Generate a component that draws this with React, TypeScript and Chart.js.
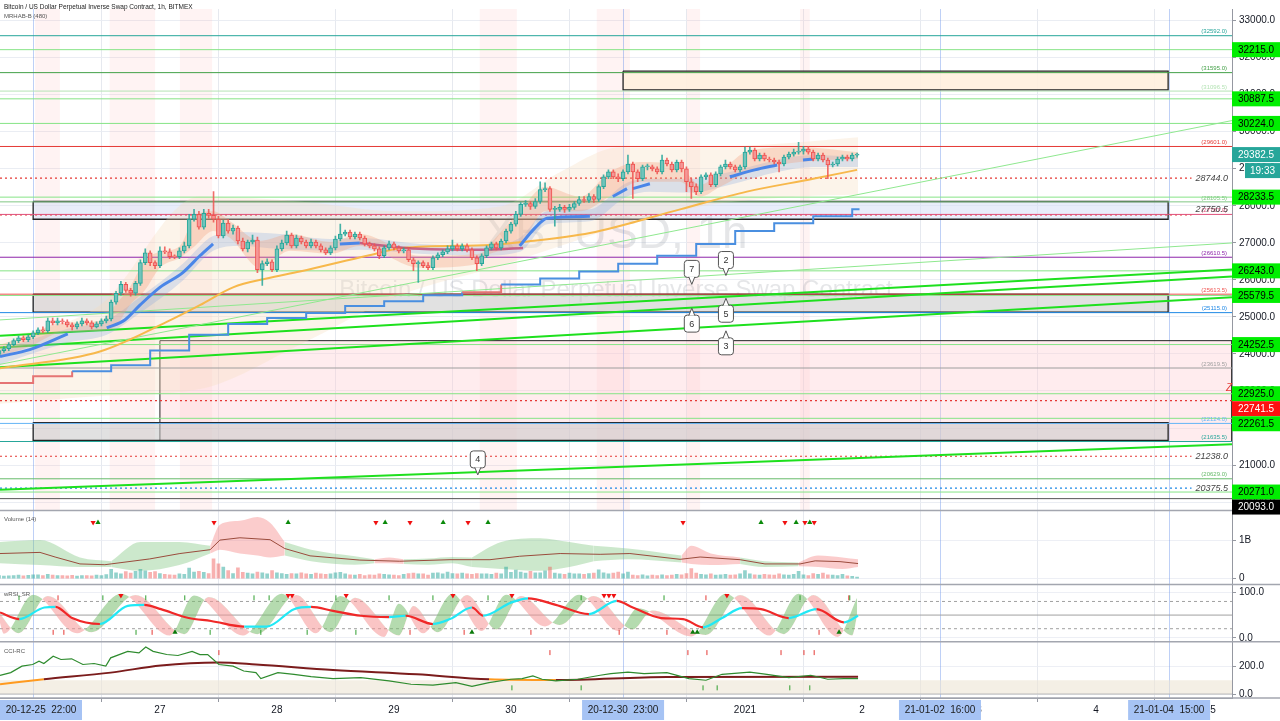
import React, { useEffect, useRef } from "react";
import { Chart, registerables } from "chart.js";

Chart.register(...registerables);

const W = 1280;
const H = 721;
const SANS = "'Liberation Sans', Arial, sans-serif";

// ---------------- time axis (hours since 2020-12-27 00:00) ----------------
const xMin = -32.8;
const xMax = 219.9;
const dayHours = [-24, 0, 24, 48, 72, 96, 120, 144, 168, 192, 216];
const dayLabels = ["26", "27", "28", "29", "30", "31", "2021", "2", "3", "4", "5"];
const markerHours = [-26, 95, 160, 207];
const markerLabels = ["20-12-25  22:00", "20-12-30  23:00", "21-01-02  16:00", "21-01-04  15:00"];

// ---------------- price axis ----------------
const priceMin = 19774;
const priceMax = 33313;
const priceTicks = [20000, 21000, 22000, 23000, 24000, 25000, 26000, 27000, 28000, 29000, 30000, 31000, 32000, 33000];

// ---------------- hourly candles (first candle = hour -33) ----------------
const firstHour = -33;
const opens = [
  23985, 24091, 24145, 24251, 24358, 24438, 24385, 24464, 24571, 24651,
  24624, 24891, 24838, 24891, 24865, 24784, 24731, 24811, 24891, 24838,
  24731, 24811, 24891, 24945, 25398, 25638, 25877, 25718, 25638, 25904,
  26464, 26730, 26464, 26384, 26784, 26757, 26624, 26624, 26784, 26917,
  27636, 27770, 27423, 27796, 27743, 27636, 27183, 27530, 27316, 27396,
  27050, 26837, 27023, 27076, 26277, 26437, 26490, 26277, 26837, 26996,
  27210, 26917, 27130, 27023, 26917, 27023, 26917, 26810, 26730, 26863,
  27103, 27236, 27290, 27156, 27236, 27130, 26970, 26917, 26837, 26650,
  26863, 26970, 26863, 26784, 26810, 26544, 26437, 26464, 26384, 26330,
  26597, 26677, 26757, 26837, 26917, 26837, 26917, 26810, 26597, 26437,
  26650, 26863, 26970, 26863, 27050, 27316, 27503, 27770, 28036, 28062,
  27983, 28116, 28436, 28462, 27903, 27903, 27956, 27903, 27956, 28062,
  28169, 28142, 28249, 28169, 28516, 28782, 28915, 28782, 28729, 28915,
  29129, 28915, 28729, 29049, 29049, 28995, 28915, 29235, 29129, 28969,
  29182, 28995, 28649, 28516, 28382, 28782, 28835, 28569, 28862, 29049,
  29129, 29049, 28969, 29049, 29448, 29502, 29262, 29369, 29262, 29235,
  29182, 29129, 29315, 29395, 29448, 29475, 29529, 29448, 29262, 29369,
  29235, 29102, 29129, 29262, 29315, 29262, 29369,
];
const highs = [
  24145, 24198, 24305, 24411, 24491, 24491, 24518, 24624, 24704, 24731,
  24971, 24971, 24971, 24945, 24918, 24838, 24865, 24971, 24945, 24891,
  24865, 24945, 25024, 25451, 25691, 25957, 25931, 25771, 25957, 26544,
  26837, 26784, 26517, 26890, 26890, 26837, 26677, 26863, 27023, 27770,
  27903, 27850, 27903, 27903, 28382, 27716, 27610, 27636, 27476, 27450,
  27130, 27076, 27210, 27156, 26517, 26570, 26544, 26917, 27076, 27316,
  27263, 27210, 27183, 27076, 27103, 27076, 26970, 26863, 26917, 27183,
  27503, 27343, 27343, 27290, 27290, 27183, 27023, 26970, 26890, 26917,
  27050, 27023, 26917, 26863, 26863, 26597, 26517, 26517, 26464, 26650,
  26730, 26810, 26917, 27076, 26970, 26970, 26970, 26863, 26650, 26704,
  26917, 27023, 27023, 27103, 27370, 27556, 27850, 28089, 28142, 28116,
  28196, 28649, 28622, 28516, 27983, 28036, 28009, 28036, 28116, 28249,
  28249, 28329, 28302, 28569, 28835, 28969, 28969, 28862, 28969, 29369,
  29182, 28969, 29102, 29129, 29102, 29049, 29369, 29289, 29182, 29235,
  29235, 29049, 28729, 28595, 28835, 28889, 28889, 28915, 29102, 29235,
  29182, 29102, 29102, 29582, 29582, 29555, 29422, 29422, 29315, 29289,
  29235, 29369, 29448, 29529, 29715, 29608, 29608, 29502, 29422, 29422,
  29289, 29182, 29315, 29369, 29369, 29422, 29422,
];
const lows = [
  23931, 24038, 24091, 24225, 24305, 24331, 24331, 24411, 24518, 24571,
  24571, 24784, 24784, 24811, 24731, 24651, 24678, 24758, 24784, 24678,
  24704, 24758, 24838, 24891, 25344, 25584, 25664, 25557, 25584, 25851,
  26410, 26384, 26304, 26330, 26704, 26570, 26570, 26570, 26730, 26863,
  27583, 27370, 27370, 27663, 27556, 27130, 27130, 27263, 27236, 26970,
  26784, 26757, 26970, 26197, 25851, 26384, 26224, 26224, 26784, 26943,
  26863, 26863, 26970, 26863, 26863, 26863, 26757, 26677, 26677, 26810,
  27050, 27183, 27103, 27103, 27076, 26917, 26863, 26784, 26570, 26597,
  26810, 26810, 26730, 26730, 26490, 26251, 25931, 26330, 26277, 26277,
  26544, 26624, 26704, 26784, 26784, 26784, 26757, 26544, 26251, 26384,
  26597, 26810, 26810, 26810, 26996, 27263, 27450, 27716, 27983, 27903,
  27929, 28062, 28382, 27850, 27450, 27850, 27823, 27850, 27903, 28009,
  28089, 28089, 28089, 28116, 28462, 28729, 28729, 28649, 28675, 28862,
  28196, 28649, 28675, 28969, 28942, 28862, 28862, 29075, 28915, 28915,
  28915, 28382, 28196, 28302, 28329, 28702, 28516, 28516, 28809, 28995,
  28995, 28915, 28915, 28995, 29395, 29209, 29209, 29209, 29182, 29129,
  28915, 29075, 29262, 29342, 29395, 29395, 29395, 29209, 29209, 29182,
  28729, 29049, 29075, 29209, 29209, 29209, 29315,
];
const closes = [
  24091, 24145, 24251, 24358, 24438, 24385, 24464, 24571, 24651, 24624,
  24891, 24838, 24891, 24865, 24784, 24731, 24811, 24891, 24838, 24731,
  24811, 24891, 24945, 25398, 25638, 25877, 25718, 25638, 25904, 26464,
  26730, 26464, 26384, 26784, 26757, 26624, 26620, 26784, 26917, 27636,
  27770, 27423, 27796, 27743, 27636, 27183, 27530, 27316, 27396, 27050,
  26837, 27023, 27076, 26277, 26437, 26490, 26277, 26837, 26996, 27210,
  26917, 27130, 27023, 26917, 27023, 26917, 26810, 26730, 26863, 27103,
  27236, 27290, 27156, 27236, 27130, 26970, 26917, 26837, 26650, 26863,
  26970, 26863, 26784, 26810, 26544, 26437, 26464, 26384, 26330, 26597,
  26677, 26757, 26837, 26917, 26837, 26917, 26810, 26597, 26437, 26650,
  26863, 26970, 26863, 27050, 27316, 27503, 27770, 28036, 28062, 27983,
  28116, 28436, 28462, 27903, 27910, 27956, 27903, 27956, 28062, 28169,
  28142, 28249, 28169, 28516, 28782, 28915, 28782, 28729, 28915, 29129,
  28915, 28729, 29049, 29055, 28995, 28915, 29235, 29129, 28969, 29182,
  28995, 28649, 28516, 28382, 28782, 28835, 28569, 28862, 29049, 29129,
  29049, 28969, 29049, 29448, 29502, 29262, 29369, 29262, 29235, 29182,
  29129, 29315, 29395, 29448, 29475, 29529, 29448, 29262, 29369, 29235,
  29102, 29129, 29262, 29315, 29262, 29369, 29382.5,
];
// volume in millions of contracts
const volumes = [
  80, 65, 70, 75, 90, 70, 85, 100, 95, 80,
  110, 90, 80, 75, 70, 85, 65, 75, 80, 70,
  90, 80, 105, 240, 150, 120, 180, 140, 190, 240,
  200, 160, 180, 130, 110, 100, 90, 120, 110, 270,
  170, 190, 160, 130, 510, 380, 300, 210, 130, 280,
  160, 140, 120, 170, 150, 120, 210, 150, 130, 110,
  130, 120, 150, 120, 110, 140, 120, 110, 120, 150,
  160, 120, 100, 90, 110, 80, 100, 90, 120, 110,
  100, 90, 80, 110, 130, 140, 120, 120, 90, 140,
  150, 120, 170, 130, 120, 140, 120, 110, 130, 120,
  120, 110, 140, 120, 300, 160, 220, 170, 140, 190,
  150, 150, 200, 300, 140, 120, 110, 140, 120, 120,
  110, 130, 140, 230, 150, 120, 140, 170, 120, 170,
  90, 80, 100, 70, 90, 80, 100, 80, 90, 110,
  100, 130, 260, 140, 110, 100, 120, 90, 100, 110,
  90, 100, 120, 210, 120, 100, 90, 110, 100, 90,
  120, 100, 90, 110, 190, 100, 80, 130, 110, 140,
  100, 90, 80, 110, 70, 60, 40,
];

// ---------------- MRHAB overlay ----------------
const cloudHours = [-32.8, -12.3, 8.2, 28.7, 49.2, 69.7, 82.1, 94.4, 110.8, 131.3, 143.2];
const cloudUpper = [24385, 25317, 28249, 28116, 27850, 27983, 28915, 29582, 29582, 29715, 29848];
const cloudLower = [22652, 22865, 23052, 24251, 25584, 26384, 26917, 27450, 27983, 28249, 28302];

const salmonHours = [-32.8, -26.7, -20.5, -12.3, -9.2, -6.2, -3.1, 0, 4.1, 7.2, 10.9, 14.4, 20.5, 26.7, 34.9, 41, 53.3, 65.6, 67.7, 73.8, 79, 86.2, 92.3, 98.5, 106.7, 110.8, 114.9, 121, 131.3, 143.2];
const salmonUpper = [24251, 24518, 24838, 24891, 25317, 25797, 26517, 26757, 26917, 27716, 27850, 27583, 27050, 27236, 27023, 27236, 26650, 26704, 26970, 27850, 28516, 28249, 28915, 29182, 29049, 28569, 28915, 29502, 29582, 29448];
const salmonLower = [23931, 24198, 24571, 24624, 24731, 25317, 25718, 26330, 26597, 26917, 27316, 27130, 26330, 26784, 26704, 26917, 26330, 26437, 26704, 26917, 27850, 27850, 28249, 28649, 28649, 28249, 28516, 28915, 29182, 29262];

const blueBandHours = [-32.8, -18.9, -10.9, -4.1, 4.7, 10.9, 16.4, 24.6, 34.9, 41, 53.3, 65.6, 73.8, 79.4, 88.2, 95.8, 100.5, 108.7, 116.9, 126.6, 134, 143.2];
const blueBandUpper = [24118, 24678, 24918, 25531, 26437, 27183, 27290, 27236, 27103, 27130, 26970, 26917, 27130, 27850, 27903, 28622, 28729, 28729, 28915, 29235, 29369, 29315];
const blueBandLower = [23718, 24305, 24518, 25104, 25984, 26784, 26917, 26837, 26784, 26810, 26704, 26650, 26757, 27503, 27583, 28249, 28382, 28356, 28569, 28915, 29049, 29049];

const fastBlueHours = [-32.8, -26.7, -18.9, -15, -10.9, -7.2, -4.1, 0, 4.7, 8.2, 10.9, 20, 36.9, 41, 50, 73.8, 76.9, 79.4, 88.2, 90, 92.9, 95.8, 96.4, 97, 100.5, 110, 116.9, 122, 126.6, 129, 131.9, 134];
const fastBlue = [23931, 24118, 24544, null, 24704, 24918, 25317, 25797, 26197, 26650, 26970, null, 26970, 26996, null, 26917, 27396, 27663, 27716, null, 28249, 28462, null, 28462, 28595, null, 28782, 28969, 29102, null, 29235, 29262];
const fastRedHours = [41, 53.3, 65.6, 74.5];
const fastRed = [26996, 26837, 26810, 26863];

const slowHours = [-32.8, -12.3, 1.4, 8.2, 15, 21.9, 28.7, 42.5, 49.8, 67.7, 74.5, 88.2, 106.7, 120.4, 134, 143];
const slowMa = [23612, 24065, 24865, 25317, 25797, 26037, 26224, 26650, 26863, 26943, 27023, 27263, 27903, 28382, 28729, 28969];

const stepHours = [-32.8, -26, -18, -10, -2, 6, 14, 22, 30, 38, 46, 54, 62, 70, 78, 86, 94, 102, 110, 118, 126, 134, 142, 143.5];
const stepValues = [23212, 23399, 23532, 23692, 24092, 24518, 24811, 24971, 25104, 25291, 25424, 25584, 25664, 25877, 26037, 26224, 26437, 26650, 26970, 27317, 27530, 27716, 27903, 27903];

// ---------------- drawings ----------------
const trendStartPrices = [23718, 24918, 24491, 24171, 23638, 20333];
const trendEndPrices = [30301, 26996, 26277, 26091, 25531, 21560];

const levelPrices = [32592, 32215, 31595, 31096.5, 30887.5, 30224, 29601, 28233.5, 28105.5, 27767, 26610.5, 26243, 25613.5, 25579.5, 25115, 24252.5, 23619.5, 22925, 22261.5, 22124, 21635.5, 20629, 20271, 20093];
const taggedPrices = [32592, 31595, 31096.5, 29601, 28105.5, 27767, 26610.5, 25613.5, 25115, 23619.5, 22124, 21635.5, 20629];
const dottedPrices = [28744, 27750.5, 22741.5, 21238, 20375.5];
const italicPrices = [28744, 27750.5, 21238, 20375.5];
const greenAxisPrices = [32215, 30887.5, 30224, 28233.5, 26243, 25579.5, 24252.5, 22925, 22261.5, 20271];
const lastPrice = 29382.5;
const countdown = "19:33";
const redAxisPrice = 22741.5;
const blackAxisPrice = 20093;

const boxStartHours = [95, -26, -26, -26];
const boxEndHours = [206.8, 206.8, 206.8, 206.8];
const boxTopPrices = [31634, 28116, 25611, 22146];
const boxBottomPrices = [31128, 27636, 25131, 21666];
const zoneHours = [0, 219.9];
const zonePrices = [24358, 21635];

const sessionBands = [[-25.6, -20.5], [-10.3, -1], [4.1, 10.7], [65.6, 73.2], [89.6, 96.4], [108.1, 110.8], [131.3, 133.3]];

const calloutLabels = ["7", "2", "6", "5", "3", "4"];
const calloutHours = [109.1, 116.1, 109.1, 116.1, 116.1, 65.2];
const calloutPrices = [25877, 26117, 25237, 25504, 24624, 20733];
const calloutBelow = [false, false, true, true, true, false];

// ---------------- volume pane ----------------
const volMaHours = [-32.8, -24.6, -21.5, -16.4, -11.3, -2.1, 4.1, 10.3, 12.3, 16.4, 22.6, 25.6, 30.8, 41, 49.2, 59.5, 67.7, 73.8, 82.1, 90.3, 96.4, 106.7, 110.8, 119, 124.1, 131.3, 134.4, 139.5, 143.2];
const volMa = [650, 680, 560, 380, 360, 510, 650, 750, 1000, 1060, 1010, 780, 590, 480, 450, 490, 490, 580, 650, 630, 650, 500, 560, 490, 380, 380, 460, 440, 390];
const volBandHours = [[-32.8, -24.6, -16.4, -10], [-10, -4, 4, 10.3], [10.3, 12.3, 16.4, 20, 22.6, 25.6], [25.6, 31, 40, 44], [44, 47, 50], [50, 55, 60, 64], [64, 70, 78, 84, 89], [89, 96, 107], [107, 109, 113, 119], [119, 124, 131], [131, 135, 140, 143.2]];
const volBandUpper = [[950, 1000, 550, 450], [450, 950, 950, 850], [850, 1400, 1500, 1600, 1450, 950], [950, 750, 580, 500], [500, 550, 500], [500, 520, 560, 550], [550, 950, 1050, 950, 850], [850, 780, 600], [600, 850, 650, 550], [550, 450, 420], [420, 600, 550, 500]];
const volBandLower = [[400, 350, 300, 300], [300, 200, 350, 650], [650, 750, 650, 600, 550, 600], [600, 450, 360, 400], [400, 400, 380], [380, 360, 400, 300], [300, 250, 200, 300, 450], [450, 500, 420], [420, 380, 350, 380], [380, 300, 320], [320, 300, 250, 300]];
const volBandRising = [true, true, false, true, false, true, true, true, false, true, false];
const volSellHours = [-13.7, 11.1, 44.3, 51.3, 63.2, 107.3, 128.2, 132.3, 134.2];
const volBuyHours = [-12.7, 26.3, 46.2, 58.1, 67.3, 123.3, 130.5, 133.3];
const volMarkLevel = 1460;

// ---------------- wRSI pane ----------------
const rsiFastHours = [-33, -32, -26, -17, -8, 2, 7, 17, 25, 32, 37, 46, 49, 54, 60, 66, 71, 79, 86, 94, 98, 109, 116, 125, 131, 139, 143];
const rsiFast = [40, 9, 95, 10, 97, 5, 93, 5, 97, 10, 92, 2, 75, 10, 97, 15, 95, 25, 95, 15, 65, 3, 97, 5, 97, 2, 88];
const rsiLagHours = [-33, -29, -23, -14, -5, 5, 10, 20, 28, 35, 40, 49, 52, 57, 63, 69, 74, 82, 89, 97, 101, 112, 119, 128, 134, 142, 143.2];
const rsiLag = [55, 10, 92, 12, 94, 8, 90, 8, 94, 12, 88, 5, 70, 12, 94, 18, 92, 28, 92, 18, 60, 6, 94, 8, 94, 5, 60];
const rsiSlowHours = [-32.8, -28.8, -23.7, -21.4, -18, -12.3, -6.6, -3.2, 0.2, 5.9, 10.5, 17.3, 21.9, 27.5, 31, 35.5, 41.2, 47, 50.4, 56, 59.5, 64, 66.3, 72, 75.5, 81.2, 88, 93.7, 97, 102.8, 107.3, 111.4, 115.3, 119.4, 123.3, 129, 134.7, 140.3, 143.2];
const rsiSlow = [55.8, 41.3, 66.7, 68.1, 43.5, 30.4, 70.3, 72.5, 63, 43.5, 37, 24.6, 24.6, 63, 68, 59.4, 48.5, 45.6, 48.5, 30.4, 41.3, 66.7, 48.5, 77.5, 87, 72.5, 52.2, 81.2, 66.7, 43.5, 41.3, 23.2, 43.5, 65.2, 63, 43.5, 63, 34, 48.5];
const rsiLevels = [80, 50, 20];
const rsiSellHours = [-8, 26.3, 27.1, 38.2, 60.1, 72.2, 91.1, 92.1, 93.1, 116.3];
const rsiBuyHours = [3.1, 64, 109.3, 110.2, 139.3];
const rsiTopGreenTicks = [-28.9, -11.7, -2.9, 5.1, 19.3, 22.4, 36.1, 47, 56, 67.3, 86.4, 103.4, 131.3, 141.5];
const rsiTopRedTicks = [-20.9, 112, 141.3];
const rsiBottomRedTicks = [-21.9, -19.7, -1.6, 51.3, 62.4, 76.1, 94.2, 104, 135.2];
const rsiBottomGreenTicks = [-4.9, 10.3, 20.7, 30.2, 40.2];

// ---------------- CCI pane ----------------
const cciHours = [-32.8, -30.6, -28.3, -26.1, -24.8, -23.8, -21.9, -20.3, -18.1, -15.8, -13.5, -11.1, -10.1, -6.6, -4.3, -2.9, -1.4, 1.4, 3.7, 6.6, 8.2, 9.8, 12.1, 15, 17.2, 19.7, 20.7, 24.2, 27.5, 31, 35.5, 41.2, 47, 51.5, 56, 60.7, 64, 67.5, 72, 74.3, 76.5, 78.4, 81.2, 85.7, 90.3, 92.5, 96, 99.3, 104, 108.5, 112, 115.3, 121, 124.5, 129, 133.5, 137, 140.3, 143.2];
const cciValues = [135, 155, 202, 214, 238, 221, 274, 250, 255, 214, 221, 202, 262, 309, 298, 340, 309, 286, 279, 309, 286, 286, 214, 202, 167, 155, 112, 155, 143, 126, 112, 119, 95, 71, 64, 83, 55, 83, 107, 112, 131, 107, 95, 107, 136, 148, 159, 148, 155, 112, 100, 143, 159, 143, 119, 136, 107, 112, 112];
const cciSignalHours = [-32.8, -23.8, -10.1, 0.2, 12.1, 19.7, 35.5, 52.7, 67.5, 81.2, 104, 143.2];
const cciSignal = [71, 107, 155, 207, 228, 214, 174, 143, 107, 102, 124, 126];
const cciRedTicks = [12.1, 80, 108.3, 112.2, 127.4, 132.1, 134.2];
const cciGreenTicks = [72.2, 86.4, 111.4, 114.3, 129.2, 133.3];

// ---------------- helpers ----------------
const zip = (xs: number[], ys: (number | null)[]) => xs.map((x, i) => ({ x, y: ys[i] }));
const hseg = (p: number, x0: number, x1: number) => [{ x: x0, y: p }, { x: x1, y: p }];
const rect = (x0: number, x1: number, p0: number, p1: number) => [
  { x: x0, y: p0 }, { x: x1, y: p0 }, { x: x1, y: p1 }, { x: x0, y: p1 }, { x: x0, y: p0 },
];
const lineDs = (axis: string, data: any[], color: string, width: number, extra: any = {}) => ({
  type: "line", yAxisID: axis, data, borderColor: color, borderWidth: width,
  pointRadius: 0, pointHoverRadius: 0, fill: false, tension: 0, ...extra,
});
const marks = (axis: string, hours: number[], level: number, style: string, color: string, rot: number, r: number, order = 1) => ({
  type: "scatter", yAxisID: axis, data: hours.map((h) => ({ x: h, y: level })),
  pointStyle: style, rotation: rot, pointRadius: r, backgroundColor: color, borderColor: color,
  borderWidth: style === "line" ? 1 : 0, order,
});

const levelColor: Record<string, string> = {
  "32592": "#26a69a", "32215": "#86e486", "31595": "#43a047", "31096.5": "#b5e3b5", "30887.5": "#86e486",
  "30224": "#86e486", "29601": "#e53935", "28233.5": "#86e486", "28105.5": "#81c784", "27767": "#e0507a",
  "26610.5": "#8e24aa", "26243": "#86e486", "25613.5": "#ef5350", "25579.5": "#86e486", "25115": "#1e88e5",
  "24252.5": "#86e486", "23619.5": "#9e9e9e", "22925": "#86e486", "22261.5": "#86e486", "22124": "#64b5f6",
  "21635.5": "#26a69a", "20629": "#66bb6a", "20271": "#86e486", "20093": "#555555",
};
const dottedColor = (p: number) => (p === 20375.5 ? "#1e88e5" : "#e53935");
const boxFills = ["rgba(255,240,222,0.9)", "rgba(214,222,246,0.55)", "rgba(200,200,200,0.55)", "rgba(200,200,200,0.55)"];

function buildDatasets() {
  const ds: any[] = [];
  ds.push(lineDs("y", rect(zoneHours[0], zoneHours[1], zonePrices[0], zonePrices[1]), "#222", 1, { fill: "shape", backgroundColor: "rgba(255,205,210,0.38)", order: 96 }));
  boxStartHours.forEach((h0, i) => {
    ds.push(lineDs("y", rect(h0, boxEndHours[i], boxTopPrices[i], boxBottomPrices[i]), "#222", 1.3, { fill: "shape", backgroundColor: boxFills[i], order: 94 }));
  });
  ds.push(lineDs("y", zip(cloudHours, cloudUpper), "rgba(0,0,0,0)", 0, { order: 92, cubicInterpolationMode: "monotone" }));
  ds.push(lineDs("y", zip(cloudHours, cloudLower), "rgba(0,0,0,0)", 0, { fill: "-1", backgroundColor: "rgba(246,222,190,0.32)", order: 92, cubicInterpolationMode: "monotone" }));
  levelPrices.forEach((p) => ds.push(lineDs("y", hseg(p, xMin, xMax), levelColor[String(p)], 1, { order: 70 })));
  dottedPrices.forEach((p) => ds.push(lineDs("y", hseg(p, xMin, italicPrices.includes(p) ? 211.6 : xMax), dottedColor(p), 1.2, { borderDash: [2, 3], order: 70 })));
  trendStartPrices.forEach((p0, i) => {
    const bold = i >= 2;
    ds.push(lineDs("y", [{ x: xMin, y: p0 }, { x: xMax, y: trendEndPrices[i] }], bold ? "#1ee01e" : "#8fe88f", bold ? 2 : 1, { order: 60 }));
  });
  ds.push(lineDs("y", zip(blueBandHours, blueBandUpper), "rgba(0,0,0,0)", 0, { order: 55, cubicInterpolationMode: "monotone" }));
  ds.push(lineDs("y", zip(blueBandHours, blueBandLower), "rgba(0,0,0,0)", 0, { fill: "-1", backgroundColor: "rgba(120,160,225,0.25)", order: 55, cubicInterpolationMode: "monotone" }));
  ds.push(lineDs("y", zip(salmonHours, salmonUpper), "rgba(0,0,0,0)", 0, { order: 50, cubicInterpolationMode: "monotone" }));
  ds.push(lineDs("y", zip(salmonHours, salmonLower), "rgba(0,0,0,0)", 0, { fill: "-1", backgroundColor: "rgba(244,160,120,0.32)", order: 50, cubicInterpolationMode: "monotone" }));
  ds.push(lineDs("y", zip(slowHours, slowMa), "#f7b84b", 2, { order: 40, cubicInterpolationMode: "monotone" }));
  ds.push(lineDs("y", zip(stepHours, stepValues), "#4a8fe0", 2, {
    stepped: true, order: 35,
    segment: { borderColor: (c: any) => ([0, 1, 12].includes(c.p0DataIndex) ? "#e57373" : "#4a8fe0") },
  }));
  ds.push(lineDs("y", zip(fastRedHours, fastRed), "rgba(190,60,110,0.75)", 2.5, { order: 30, cubicInterpolationMode: "monotone" }));
  ds.push(lineDs("y", zip(fastBlueHours, fastBlue), "#4a86e8", 3, { order: 30, cubicInterpolationMode: "monotone" }));
  const hours = opens.map((_, i) => firstHour + i);
  const up = closes.map((c, i) => c >= opens[i]);
  ds.push({
    type: "bar", yAxisID: "y", data: hours.map((h, i) => ({ x: h, y: [lows[i], highs[i]] })),
    backgroundColor: up.map((u) => (u ? "rgba(38,166,154,0.85)" : "rgba(239,83,80,0.85)")),
    barThickness: 1, grouped: false, order: 3,
  });
  ds.push({
    type: "bar", yAxisID: "y", data: hours.map((h, i) => ({ x: h, y: [opens[i], closes[i]] })),
    backgroundColor: up.map((u) => (u ? "rgba(120,200,190,0.85)" : "rgba(245,160,160,0.85)")),
    borderColor: up.map((u) => (u ? "#26a69a" : "#ef5350")),
    borderWidth: 1, borderSkipped: false, barThickness: 4, minBarLength: 1, grouped: false, order: 2,
  });
  ds.push({
    type: "bar", yAxisID: "yv", data: hours.map((h, i) => ({ x: h, y: volumes[i] })),
    backgroundColor: up.map((u) => (u ? "rgba(38,166,154,0.5)" : "rgba(239,83,80,0.45)")),
    barThickness: 3, grouped: false, order: 8,
  });
  volBandHours.forEach((hs, r) => {
    ds.push(lineDs("yv", zip(hs, volBandUpper[r]), "rgba(0,0,0,0)", 0, { order: 12, cubicInterpolationMode: "monotone" }));
    ds.push(lineDs("yv", zip(hs, volBandLower[r]), "rgba(0,0,0,0)", 0, {
      fill: "-1", backgroundColor: volBandRising[r] ? "rgba(120,195,120,0.38)" : "rgba(245,120,120,0.38)",
      order: 12, cubicInterpolationMode: "monotone",
    }));
  });
  ds.push(lineDs("yv", zip(volMaHours, volMa), "#9a4b3c", 1, { order: 4 }));
  ds.push(marks("yv", volSellHours, volMarkLevel, "triangle", "#f01010", 180, 3));
  ds.push(marks("yv", volBuyHours, volMarkLevel, "triangle", "#0a8a0a", 0, 3));
  rsiLevels.forEach((v) => ds.push(lineDs("yr", hseg(v, xMin, xMax), "#a0a0a0", 1, { borderDash: v === 50 ? [] : [3, 3], order: 20 })));
  ds.push(lineDs("yr", zip(rsiLagHours, rsiLag), "rgba(0,0,0,0)", 0, { order: 10, cubicInterpolationMode: "monotone" }));
  ds.push(lineDs("yr", zip(rsiFastHours, rsiFast), "rgba(0,0,0,0)", 0, {
    order: 10, cubicInterpolationMode: "monotone",
    fill: { target: "-1", above: "rgba(120,190,110,0.55)", below: "rgba(245,150,150,0.55)" },
  }));
  ds.push(lineDs("yr", zip(rsiSlowHours, rsiSlow), "#22e0f0", 2.2, {
    order: 5, cubicInterpolationMode: "monotone",
    segment: { borderColor: (c: any) => (c.p1.parsed.y >= c.p0.parsed.y ? "#22e8f5" : "#f02828") },
  }));
  ds.push(marks("yr", rsiSellHours, 93, "triangle", "#f01010", 180, 3));
  ds.push(marks("yr", rsiBuyHours, 12, "triangle", "#0a7a0a", 0, 3));
  ds.push(marks("yr", rsiTopGreenTicks, 88, "line", "#2e9e2e", 90, 2.5));
  ds.push(marks("yr", rsiTopRedTicks, 88, "line", "#e53935", 90, 2.5));
  ds.push(marks("yr", rsiBottomRedTicks, 12, "line", "#e53935", 90, 2.5));
  ds.push(marks("yr", rsiBottomGreenTicks, 12, "line", "#2e9e2e", 90, 2.5));
  ds.push(lineDs("yc", rect(xMin, xMax, 0, 100), "rgba(0,0,0,0)", 0, { fill: "shape", backgroundColor: "rgba(236,228,212,0.6)", order: 22 }));
  ds.push(lineDs("yc", hseg(0, xMin, xMax), "#b8b8b8", 1, { order: 21 }));
  ds.push(lineDs("yc", zip(cciSignalHours, cciSignal), "#7b1c1c", 2, {
    order: 6, cubicInterpolationMode: "monotone",
    segment: { borderColor: (c: any) => (c.p1.parsed.x <= -23.8 || (c.p0.parsed.x >= 67.5 && c.p1.parsed.x <= 81.2) ? "#ff9a1f" : "#7b1c1c") },
  }));
  ds.push(lineDs("yc", zip(cciHours, cciValues), "#2e8b2e", 1.2, { order: 5 }));
  ds.push(marks("yc", cciRedTicks, 300, "line", "#e53935", 90, 2.5));
  ds.push(marks("yc", cciGreenTicks, 45, "line", "#2e9e2e", 90, 2.5));
  return ds;
}

function roundRect(ctx: CanvasRenderingContext2D, x: number, y: number, w: number, h: number, r: number) {
  ctx.beginPath();
  ctx.moveTo(x + r, y);
  ctx.lineTo(x + w - r, y);
  ctx.quadraticCurveTo(x + w, y, x + w, y + r);
  ctx.lineTo(x + w, y + h - r);
  ctx.quadraticCurveTo(x + w, y + h, x + w - r, y + h);
  ctx.lineTo(x + r, y + h);
  ctx.quadraticCurveTo(x, y + h, x, y + h - r);
  ctx.lineTo(x, y + r);
  ctx.quadraticCurveTo(x, y, x + r, y);
  ctx.closePath();
}

const overlay = {
  id: "overlay",
  beforeDraw(chart: any) {
    const c = chart.ctx;
    c.save();
    c.fillStyle = "#ffffff";
    c.fillRect(0, 0, chart.width, chart.height);
    c.restore();
  },
  beforeDatasetsDraw(chart: any) {
    const { ctx, chartArea } = chart;
    const x = chart.scales.x;
    const y = chart.scales.y;
    ctx.save();
    ctx.fillStyle = "rgba(255,170,170,0.14)";
    sessionBands.forEach(([h0, h1]) => {
      const a = x.getPixelForValue(h0);
      const b = x.getPixelForValue(h1);
      ctx.fillRect(a, y.top, b - a, y.bottom - y.top);
    });
    ctx.strokeStyle = "rgba(110,150,235,0.45)";
    ctx.lineWidth = 1;
    markerHours.forEach((h) => {
      const px = Math.round(x.getPixelForValue(h)) + 0.5;
      ctx.beginPath();
      ctx.moveTo(px, chartArea.top);
      ctx.lineTo(px, chartArea.bottom);
      ctx.stroke();
    });
    const cx = (x.left + x.right) / 2;
    const cy = (y.top + y.bottom) / 2;
    ctx.fillStyle = "rgba(135,140,152,0.22)";
    ctx.textAlign = "center";
    ctx.textBaseline = "alphabetic";
    ctx.font = `46px ${SANS}`;
    ctx.fillText("XBTUSD, 1h", cx, cy - 12);
    ctx.font = `24px ${SANS}`;
    ctx.fillText("Bitcoin / US Dollar Perpetual Inverse Swap Contract", cx, cy + 37);
    ctx.restore();
  },
  afterDraw(chart: any) {
    const { ctx } = chart;
    const x = chart.scales.x;
    const y = chart.scales.y;
    const yv = chart.scales.yv;
    const yr = chart.scales.yr;
    const yc = chart.scales.yc;
    ctx.save();
    ctx.strokeStyle = "#a3a6af";
    ctx.lineWidth = 1.5;
    [yv.top, yr.top, yc.top, x.top].forEach((py: number) => {
      ctx.beginPath();
      ctx.moveTo(0, py);
      ctx.lineTo(W, py);
      ctx.stroke();
    });
    ctx.textAlign = "right";
    ctx.textBaseline = "bottom";
    ctx.font = `6px ${SANS}`;
    taggedPrices.forEach((p) => {
      ctx.fillStyle = levelColor[String(p)];
      ctx.fillText(`(${p.toFixed(1)})`, x.right - 5, y.getPixelForValue(p) - 1);
    });
    ctx.font = `italic 9px ${SANS}`;
    ctx.textBaseline = "middle";
    ctx.fillStyle = "#444";
    italicPrices.forEach((p) => {
      const py = y.getPixelForValue(p) - (p === 27750.5 ? 6 : 0);
      ctx.fillText(p.toFixed(1), x.right - 4, py);
    });
    ctx.fillStyle = "#e53935";
    ctx.font = `italic 10px ${SANS}`;
    ctx.fillText("Z", x.right, y.getPixelForValue(23079));
    const labels: any[] = [];
    greenAxisPrices.forEach((p) => labels.push({ p, bg: "#00ee00", fg: "#000" }));
    labels.push({ p: lastPrice, bg: "#26a69a", fg: "#fff", cd: true });
    labels.push({ p: redAxisPrice, bg: "#ff1010", fg: "#fff" });
    labels.push({ p: blackAxisPrice, bg: "#000", fg: "#fff" });
    labels.forEach((l) => (l.py = y.getPixelForValue(l.p)));
    labels.sort((a, b) => a.py - b.py);
    let prev = -100;
    labels.forEach((l) => {
      if (l.py < prev + 15) l.py = prev + 15;
      prev = l.py + (l.cd ? 15 : 0);
    });
    ctx.textAlign = "left";
    ctx.textBaseline = "middle";
    ctx.font = `10px ${SANS}`;
    labels.forEach((l) => {
      ctx.fillStyle = l.bg;
      ctx.fillRect(x.right, l.py - 7.5, W - x.right, 15);
      ctx.fillStyle = l.fg;
      ctx.fillText(l.p.toFixed(1), x.right + 6, l.py + 0.5);
      if (l.cd) {
        ctx.fillStyle = l.bg;
        ctx.fillRect(x.right + 13, l.py + 8.5, W - x.right - 13, 15);
        ctx.fillStyle = "#fff";
        ctx.textAlign = "center";
        ctx.fillText(countdown, (x.right + 13 + W) / 2, l.py + 16.5);
        ctx.textAlign = "left";
      }
    });
    ctx.font = `10px ${SANS}`;
    ctx.textAlign = "center";
    markerHours.forEach((h, i) => {
      const px = x.getPixelForValue(h);
      const bw = 82;
      const left = Math.max(0, Math.min(W - bw, px - bw / 2));
      ctx.fillStyle = "#a6c3f4";
      ctx.fillRect(left, x.top + 2, bw, 20);
      ctx.fillStyle = "#1c1c1c";
      ctx.fillText(markerLabels[i], left + bw / 2, x.top + 12.5);
    });
    ctx.font = `9px ${SANS}`;
    calloutLabels.forEach((lab, i) => {
      const tx = x.getPixelForValue(calloutHours[i]);
      const ty = y.getPixelForValue(calloutPrices[i]);
      const bw = 15, bh = 17, tip = 7;
      const by = calloutBelow[i] ? ty + tip : ty - tip - bh;
      ctx.fillStyle = "#fff";
      ctx.strokeStyle = "#555";
      ctx.lineWidth = 1;
      roundRect(ctx, tx - bw / 2, by, bw, bh, 3);
      ctx.fill();
      ctx.stroke();
      ctx.beginPath();
      if (calloutBelow[i]) {
        ctx.moveTo(tx - 3, by + 0.5);
        ctx.lineTo(tx, ty);
        ctx.lineTo(tx + 3, by + 0.5);
      } else {
        ctx.moveTo(tx - 3, by + bh - 0.5);
        ctx.lineTo(tx, ty);
        ctx.lineTo(tx + 3, by + bh - 0.5);
      }
      ctx.fill();
      ctx.stroke();
      ctx.fillStyle = "#333";
      ctx.textBaseline = "middle";
      ctx.fillText(lab, tx, by + bh / 2 + 0.5);
    });
    ctx.textAlign = "left";
    ctx.textBaseline = "middle";
    ctx.fillStyle = "#222";
    ctx.font = `6.5px ${SANS}`;
    ctx.fillText("Bitcoin / US Dollar Perpetual Inverse Swap Contract, 1h, BITMEX", 4, 7.5);
    ctx.fillStyle = "#555";
    ctx.font = `6px ${SANS}`;
    ctx.fillText("MRHAB-B (480)", 4, 16);
    ctx.fillText("Volume (14)", 4, yv.top + 9);
    ctx.fillText("wRSI_SR", 4, yr.top + 10);
    ctx.fillText("CCI-RC", 4, yc.top + 10);
    ctx.restore();
  },
};

const axisTickFont = { size: 10, family: SANS };

function paneAxis(weight: number, stackWeight: number, min: number, max: number, ticks: number[], labels: string[], gridColor: string) {
  return {
    type: "linear", position: "right", stack: "panes", stackWeight, weight, min, max,
    afterBuildTicks: (s: any) => { s.ticks = ticks.map((v) => ({ value: v })); },
    afterFit: (s: any) => { s.width = 48; },
    ticks: { color: "#131722", font: axisTickFont, padding: 3, callback: (_v: any, i: number) => labels[i] },
    grid: { color: gridColor, tickLength: 4, tickColor: "#9598a1" },
    border: { color: "#9598a1" },
  };
}

export default function App() {
  const ref = useRef<HTMLCanvasElement | null>(null);
  useEffect(() => {
    if (!ref.current) return;
    const chart = new Chart(ref.current, {
      type: "bar",
      data: { datasets: buildDatasets() },
      options: {
        responsive: false,
        animation: false,
        devicePixelRatio: 1,
        events: [],
        layout: { padding: 0, autoPadding: false },
        plugins: { legend: { display: false }, tooltip: { enabled: false } },
        scales: {
          x: {
            type: "linear", position: "bottom", min: xMin, max: xMax, offset: false,
            afterBuildTicks: (s: any) => { s.ticks = dayHours.map((v) => ({ value: v })); },
            afterFit: (s: any) => { s.height = 23; },
            ticks: { autoSkip: false, maxRotation: 0, color: "#131722", font: axisTickFont, padding: 2, callback: (_v: any, i: number) => dayLabels[i] },
            grid: { color: "rgba(222,226,234,0.75)", tickLength: 4, tickColor: "#9598a1" },
            border: { color: "#9598a1" },
          },
          y: paneAxis(1, 508, priceMin, priceMax, priceTicks, priceTicks.map((v) => v.toFixed(1)), "rgba(232,235,242,0.9)"),
          yv: paneAxis(2, 75, -154, 1770, [0, 1000], ["0", "1B"], "rgba(232,235,242,0.8)"),
          yr: paneAxis(3, 58, -8.7, 117.4, [0, 100], ["0.0", "100.0"], "rgba(232,235,242,0.8)"),
          yc: paneAxis(4, 57, -28.6, 378.6, [0, 200], ["0.0", "200.0"], "rgba(232,235,242,0.8)"),
        },
      } as any,
      plugins: [overlay],
    } as any);
    return () => chart.destroy();
  }, []);
  return (
    <div style={{ position: "fixed", left: 0, top: 0, width: W, height: H, background: "#fff" }}>
      <canvas ref={ref} width={W} height={H} style={{ width: W, height: H, display: "block" }} />
    </div>
  );
}
